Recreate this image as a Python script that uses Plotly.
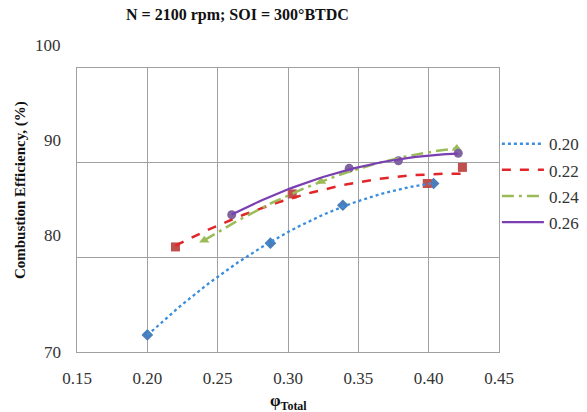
import numpy as np
import plotly.graph_objects as go

# ---- data ----
series_names = ["0.20", "0.22", "0.24", "0.26"]
x_020 = [0.200, 0.2875, 0.339, 0.4035]
y_020 = [71.8, 81.5, 85.5, 87.8]
x_022 = [0.220, 0.303, 0.399, 0.424]
y_022 = [81.1, 86.7, 87.8, 89.5]
x_024 = [0.2405, 0.3235, 0.420]
y_024 = [81.8, 88.0, 91.5]
x_026 = [0.260, 0.3435, 0.3785, 0.421]
y_026 = [84.5, 89.4, 90.2, 91.0]
x_ticks = [0.15, 0.20, 0.25, 0.30, 0.35, 0.40, 0.45]
y_ticks = [70, 80, 90, 100]
y_tick_labels = ["70", "80", "90", "100"]

xs = [x_020, x_022, x_024, x_026]
ys = [y_020, y_022, y_024, y_026]
marker_colors = ["#4a7ebb", "#c0504d", "#9bbb59", "#8064a2"]
line_colors = ["#3b8ede", "#e0262a", "#9bbb59", "#7a3fb0"]
symbols = ["diamond", "square", "triangle-up", "circle"]
dashes = ["dot", "dash", "12px,5px,3px,5px", "solid"]
widths = [2.3, 2.5, 2.5, 2.2]

SERIF = "Liberation Serif, Times New Roman, serif"

fig = go.Figure()
for i in range(4):
    fig.add_trace(go.Scatter(
        x=xs[i], y=ys[i], mode="markers",
        marker=dict(symbol=symbols[i], color=marker_colors[i], size=9),
        showlegend=False, hoverinfo="skip"))
for i in range(4):
    coef = np.polyfit(xs[i], ys[i], 2)
    xf = np.linspace(min(xs[i]), max(xs[i]), 60)
    yf = np.polyval(coef, xf)
    fig.add_trace(go.Scatter(
        x=xf, y=yf, mode="lines", name=series_names[i],
        legendgroup=series_names[i],
        line=dict(color=line_colors[i], dash=dashes[i], width=widths[i]),
        hoverinfo="skip"))

grid = "#a0a0a0"
fig.update_layout(
    width=587, height=412,
    margin=dict(l=77, r=88, t=68, b=60, autoexpand=False),
    paper_bgcolor="white", plot_bgcolor="white",
    font=dict(family=SERIF, size=17, color="#333333"),
    xaxis=dict(range=[0.15, 0.45], tickvals=x_ticks, tickformat=".2f",
               showgrid=True, gridcolor=grid, gridwidth=1.3,
               showline=True, linecolor=grid, linewidth=1.3, mirror=True,
               zeroline=False, ticks="", ticklabelstandoff=10,
               tickfont=dict(family=SERIF, size=17, color="#333333")),
    yaxis=dict(range=[70, 100], tickvals=y_ticks,
               showgrid=True, gridcolor=grid, gridwidth=1.3,
               showline=True, linecolor=grid, linewidth=1.3, mirror=True,
               zeroline=False, ticks="", showticklabels=False),
    legend=dict(x=0.995, y=0.795, xanchor="left", yanchor="top",
                font=dict(family=SERIF, size=17, color="#333333"),
                bgcolor="rgba(0,0,0,0)", tracegroupgap=1,
                itemwidth=42, traceorder="grouped"),
    showlegend=True,
)

# y tick labels (offset as in the reference)
shifts = [0, 22, 22, 23]
for v, t, s in zip(y_ticks, y_tick_labels, shifts):
    fig.add_annotation(x=0, xref="paper", y=v, yref="y", text=t,
                       xanchor="right", yanchor="middle", xshift=-14, yshift=s,
                       showarrow=False,
                       font=dict(family=SERIF, size=17, color="#333333"))

# title
fig.add_annotation(x=65 / 587, xref="paper", y=1.0, yref="paper",
                   text="<b>N = 2100 rpm; SOI = 300°BTDC</b>",
                   xanchor="left", yanchor="middle", yshift=53, showarrow=False,
                   font=dict(family=SERIF, size=16, color="#111111"))
# y axis title
fig.add_annotation(x=0, xref="paper", y=0.57, yref="paper",
                   text="<b>Combustion Efficiency, (%)</b>", textangle=-90,
                   xanchor="center", yanchor="middle", xshift=-57, showarrow=False,
                   font=dict(family=SERIF, size=15, color="#111111"))
# x axis title
fig.add_annotation(x=0.5, xref="paper", y=0, yref="paper",
                   text="<b>φ<sub>Total</sub></b>",
                   xanchor="center", yanchor="top", yshift=-37, showarrow=False,
                   font=dict(family=SERIF, size=17, color="#111111"))

fig.write_html("out.html")
